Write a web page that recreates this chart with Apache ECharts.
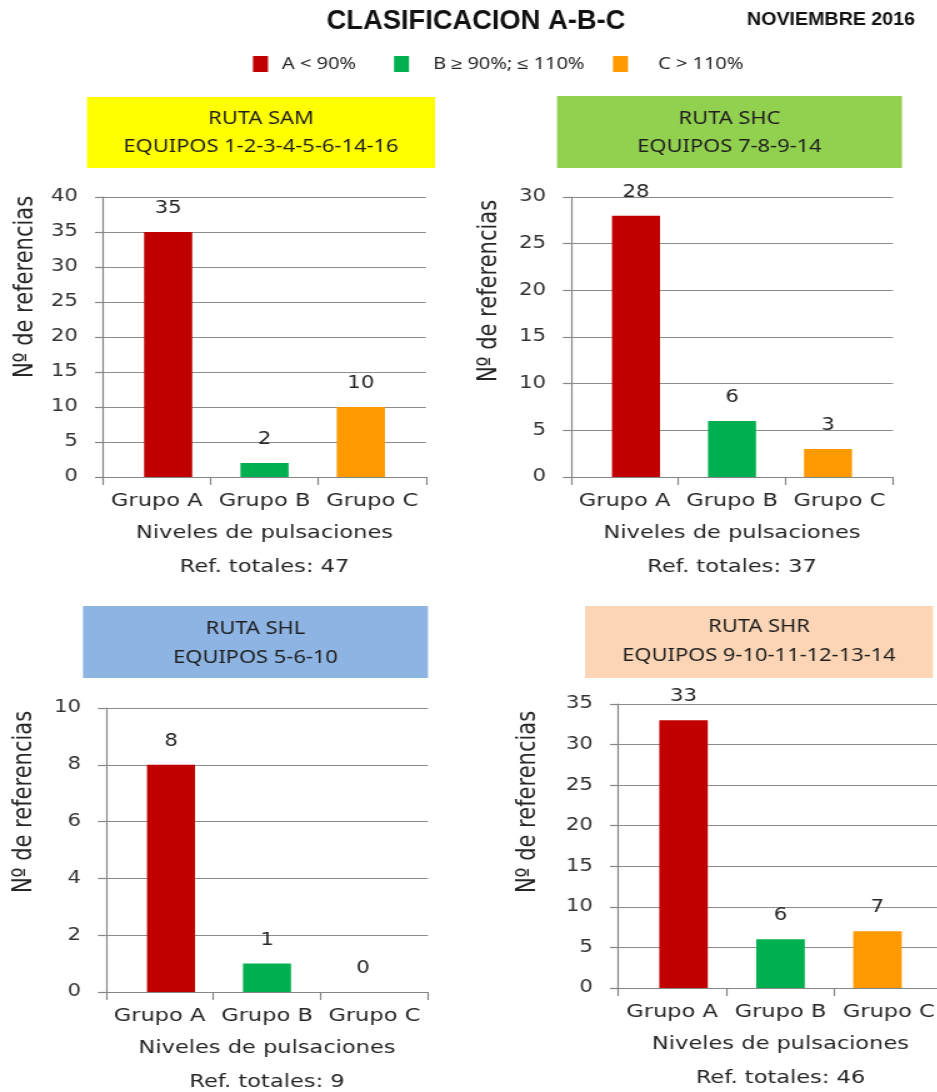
<!DOCTYPE html>
<html><head><meta charset="utf-8">
<script src="https://cdn.jsdelivr.net/npm/echarts@6/dist/echarts.min.js"></script>
<style>
html,body{margin:0;padding:0;background:#fff;overflow:hidden;width:937px;height:1092px;}
#chart{width:760px;height:1092px;transform:scaleX(1.25);transform-origin:0 0;}
</style></head><body><div id="chart"></div>
<script>
// ---------- data ----------
const categories = ['Grupo A', 'Grupo B', 'Grupo C'];
const samValues = [35, 2, 10];
const shcValues = [28, 6, 3];
const shlValues = [8, 1, 0];
const shrValues = [33, 6, 7];
const routeNames = ['RUTA SAM', 'RUTA SHC', 'RUTA SHL', 'RUTA SHR'];
const equiposLabels = ['EQUIPOS 1-2-3-4-5-6-14-16', 'EQUIPOS 7-8-9-14', 'EQUIPOS 5-6-10', 'EQUIPOS 9-10-11-12-13-14'];
const legendLabels = ['A < 90%', 'B \u2265 90%; \u2264 110%', 'C > 110%'];
const yMaxes = [40, 30, 10, 35];
const yIntervals = [5, 5, 2, 5];
const chartTitle = 'CLASIFICACION A-B-C';
const periodLabel = 'NOVIEMBRE 2016';
const xAxisTitle = 'Niveles de pulsaciones';
const yAxisTitle = 'N\u00ba de referencias';
const totalPrefix = 'Ref. totales: ';

// ---------- styling / layout ----------
const SX = 1.25; // horizontal stretch of the whole picture
const groupColors = ['#C00000', '#00B050', '#FF9900'];
const headerColors = ['#FFFF00', '#92D050', '#8DB4E2', '#FBD5B5'];
const panelValues = [samValues, shcValues, shlValues, shrValues];
const FONT = '"DejaVu Sans", Verdana, sans-serif';
const TXT = '#262626';
const AXC = '#868686';
// screen-pixel layout
const panels = [
  {l:103, r:426, t:197, b:477, pad:17, box:[87, 97, 435, 168], ly:[119, 147], yGap:51, yShift:50},
  {l:571, r:893, t:197, b:477, pad:17, box:[557, 96, 902, 168], ly:[119, 147], yGap:55, yShift:46},
  {l:106, r:428, t:708, b:992, pad:17, box:[83, 606, 428, 678], ly:[629, 658], yGap:55, yShift:48},
  {l:618, r:943, t:704, b:988, pad:17, box:[585, 606, 933, 678], ly:[627, 656], yGap:61, yShift:44}
];

const grids = [], xAxes = [], yAxes = [], series = [], graphics = [];

panels.forEach((p, i) => {
  const vals = panelValues[i];
  const total = vals.reduce((a, b) => a + b, 0);
  grids.push({left: p.l / SX, top: p.t, width: (p.r - p.l) / SX, height: p.b - p.t, outerBoundsMode: 'none', containLabel: false});
  grids.push({left: (p.l + p.pad) / SX, top: p.t, width: (p.r - p.l - 2 * p.pad) / SX, height: p.b - p.t, outerBoundsMode: 'none', containLabel: false});
  xAxes.push({
    gridIndex: 2 * i, type: 'category', data: categories,
    axisLine: {show: true, lineStyle: {color: AXC, width: 1.2}},
    axisTick: {show: true, length: 8, lineStyle: {color: AXC, width: 1.2}},
    axisLabel: {interval: 0, margin: 15, fontFamily: FONT, fontSize: 18, color: TXT},
    name: xAxisTitle + '\n' + totalPrefix + total,
    nameLocation: 'middle', nameGap: 39,
    nameTextStyle: {fontFamily: FONT, fontSize: 18, lineHeight: 34, color: TXT}
  });
  xAxes.push({gridIndex: 2 * i + 1, type: 'category', data: categories, show: false});
  yAxes.push({
    gridIndex: 2 * i, type: 'value', min: 0, max: yMaxes[i], interval: yIntervals[i],
    axisLine: {show: true, lineStyle: {color: AXC, width: 1.2}},
    axisTick: {show: true, length: 8 / SX, lineStyle: {color: AXC, width: 1.2}},
    splitLine: {show: true, lineStyle: {color: '#8c8c8c', width: 1.2}},
    axisLabel: {margin: 20, fontFamily: FONT, fontSize: 17, color: '#333'},
    name: yAxisTitle, nameLocation: 'middle', nameGap: p.yGap,
    nameTextStyle: {fontFamily: FONT, fontSize: 21, color: TXT, padding: [0, 0, 0, 2 * p.yShift]}
  });
  yAxes.push({gridIndex: 2 * i + 1, type: 'value', min: 0, max: yMaxes[i], interval: yIntervals[i], show: false, splitLine: {show: false}});
  series.push({
    type: 'bar', xAxisIndex: 2 * i + 1, yAxisIndex: 2 * i + 1, data: vals, barWidth: '50%',
    itemStyle: {color: (prm) => groupColors[prm.dataIndex]},
    label: {show: true, position: 'top', distance: 15, fontFamily: FONT, fontSize: 17, color: TXT}
  });
  // header box
  const [x0, y0, x1, y1] = p.box;
  graphics.push({type: 'rect', shape: {x: x0 / SX, y: y0, width: (x1 - x0) / SX, height: y1 - y0}, style: {fill: headerColors[i]}, z: 1});
  [routeNames[i], equiposLabels[i]].forEach((t, k) => {
    graphics.push({type: 'text', x: (x0 + x1) / 2 / SX, y: p.ly[k], z: 2,
      style: {text: t, font: '17.5px "Noto Sans", sans-serif', fill: '#1e1e1e', align: 'center', verticalAlign: 'middle', textAlign: 'center', textVerticalAlign: 'middle'}});
  });
});

// main title & date
graphics.push({type: 'text', x: 476 / SX, y: 21, scaleX: 0.78, z: 2,
  style: {text: chartTitle, font: 'bold 28px "Liberation Sans", Arial, sans-serif', fill: '#111', align: 'center', verticalAlign: 'middle', textAlign: 'center', textVerticalAlign: 'middle'}});
graphics.push({type: 'text', x: 831 / SX, y: 20, scaleX: 0.873, z: 2,
  style: {text: periodLabel, font: 'bold 18px "Liberation Sans", Arial, sans-serif', fill: '#111', align: 'center', verticalAlign: 'middle', textAlign: 'center', textVerticalAlign: 'middle'}});
// legend
const legSq = [253, 394, 613];
const legTx = [282, 433, 658];
legendLabels.forEach((t, k) => {
  graphics.push({type: 'rect', shape: {x: legSq[k] / SX, y: 56, width: 15 / SX, height: 16}, style: {fill: groupColors[k]}, z: 2});
  graphics.push({type: 'text', x: legTx[k] / SX, y: 64, z: 2,
    style: {text: t, font: '16px "Noto Sans", sans-serif', fill: TXT, align: 'left', verticalAlign: 'middle', textAlign: 'left', textVerticalAlign: 'middle'}});
});

const chart = echarts.init(document.getElementById('chart'));
chart.setOption({
  animation: false,
  backgroundColor: '#fff',
  grid: grids, xAxis: xAxes, yAxis: yAxes, series: series,
  graphic: {elements: graphics}
});
</script></body></html>
